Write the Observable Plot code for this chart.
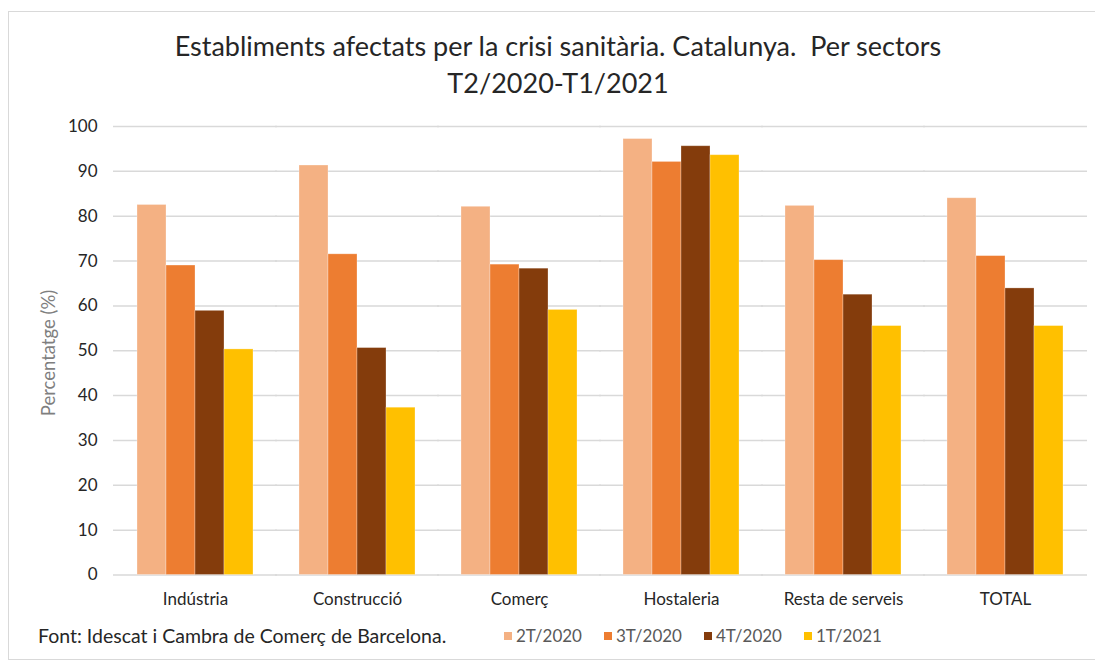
<!DOCTYPE html>
<html>
<head>
<meta charset="utf-8">
<script src="https://cdn.jsdelivr.net/npm/d3@7"></script>
<script src="https://cdn.jsdelivr.net/npm/@observablehq/plot@0.6"></script>
<style>
  html, body { margin: 0; padding: 0; background: #fff; }
  body { width: 1095px; height: 663px; overflow: hidden; position: relative; font-family: Lato, "Open Sans", sans-serif; }
  #frame { position: absolute; left: 8px; top: 11px; width: 1200px; height: 649px; border-left: 1.5px solid #d9d9d9; border-top: 1.5px solid #d9d9d9; border-bottom: 1.5px solid #d9d9d9; box-sizing: border-box; }
  #title { position: absolute; left: 0; width: 1116px; top: 27px; text-align: center; font-size: 27px; line-height: 37px; color: #262626; }
  #chart { position: absolute; left: 0; top: 108px; }
  #ylabel { position: absolute; left: 48px; top: 353px; transform: translate(-50%, -50%) rotate(-90deg); font-size: 18.5px; line-height: 22px; color: #7f7f7f; white-space: nowrap; }
  #source { position: absolute; left: 38px; top: 624px; font-size: 19.5px; line-height: 24px; color: #262626; white-space: nowrap; }
  #legend { position: absolute; left: 504px; top: 626px; display: flex; font-size: 17px; line-height: 20px; color: #595959; }
  #legend .item { display: flex; align-items: center; width: 100px; }
  #legend .sw { width: 8px; height: 8px; margin-right: 4px; }
</style>
</head>
<body>
<div id="frame"></div>
<div id="title">Establiments afectats per la crisi sanitària. Catalunya.&nbsp; Per sectors<br>T2/2020-T1/2021</div>
<div id="chart"></div>
<div id="ylabel">Percentatge (%)</div>
<div id="source">Font: Idescat i Cambra de Comerç de Barcelona.</div>
<div id="legend"></div>
<script>
const sectors = ["Indústria", "Construcció", "Comerç", "Hostaleria", "Resta de serveis", "TOTAL"];
const periods = ["2T/2020", "3T/2020", "4T/2020", "1T/2021"];
const colors = ["#F4B183", "#ED7D31", "#843C0C", "#FFC000"];
const v2T2020 = [82.5, 91.3, 82.1, 97.2, 82.3, 84.0];
const v3T2020 = [69.0, 71.5, 69.2, 92.1, 70.2, 71.1];
const v4T2020 = [58.9, 50.6, 68.3, 95.6, 62.5, 63.9];
const v1T2021 = [50.3, 37.3, 59.1, 93.6, 55.5, 55.5];
const yTicks = [0, 10, 20, 30, 40, 50, 60, 70, 80, 90, 100];

const seriesValues = [v2T2020, v3T2020, v4T2020, v1T2021];
const data = [];
sectors.forEach((s, i) => periods.forEach((p, j) => data.push({sector: s, period: p, value: seriesValues[j][i]})));

const chart = Plot.plot({
  width: 1095,
  height: 512,
  marginLeft: 114,
  marginRight: 9,
  marginTop: 18,
  marginBottom: 45.5,
  style: {fontFamily: "Lato, 'Open Sans', sans-serif", fontSize: "17px", color: "#262626", background: "transparent"},
  fx: {domain: sectors, paddingInner: 0.27, paddingOuter: 0.135, label: null, tickSize: 0, tickPadding: 18},
  x: {domain: periods, axis: null, padding: 0},
  y: {domain: [0, 100], ticks: yTicks, label: null, tickSize: 0, tickPadding: 39},
  color: {domain: periods, range: colors},
  marks: [
    Plot.ruleY(yTicks, {stroke: "#d9d9d9", strokeWidth: 1.5, insetLeft: -23, insetRight: -23}),
    Plot.barY(data, {fx: "sector", x: "period", y: "value", fill: "period", stroke: "#ffffff", strokeOpacity: 0.35, strokeWidth: 0.8})
  ]
});
document.getElementById("chart").appendChild(chart);

const legend = document.getElementById("legend");
periods.forEach((p, i) => {
  const item = document.createElement("div");
  item.className = "item";
  const sw = document.createElement("div");
  sw.className = "sw";
  sw.style.background = colors[i];
  const t = document.createElement("span");
  t.textContent = p;
  item.appendChild(sw);
  item.appendChild(t);
  legend.appendChild(item);
});
</script>
</body>
</html>
